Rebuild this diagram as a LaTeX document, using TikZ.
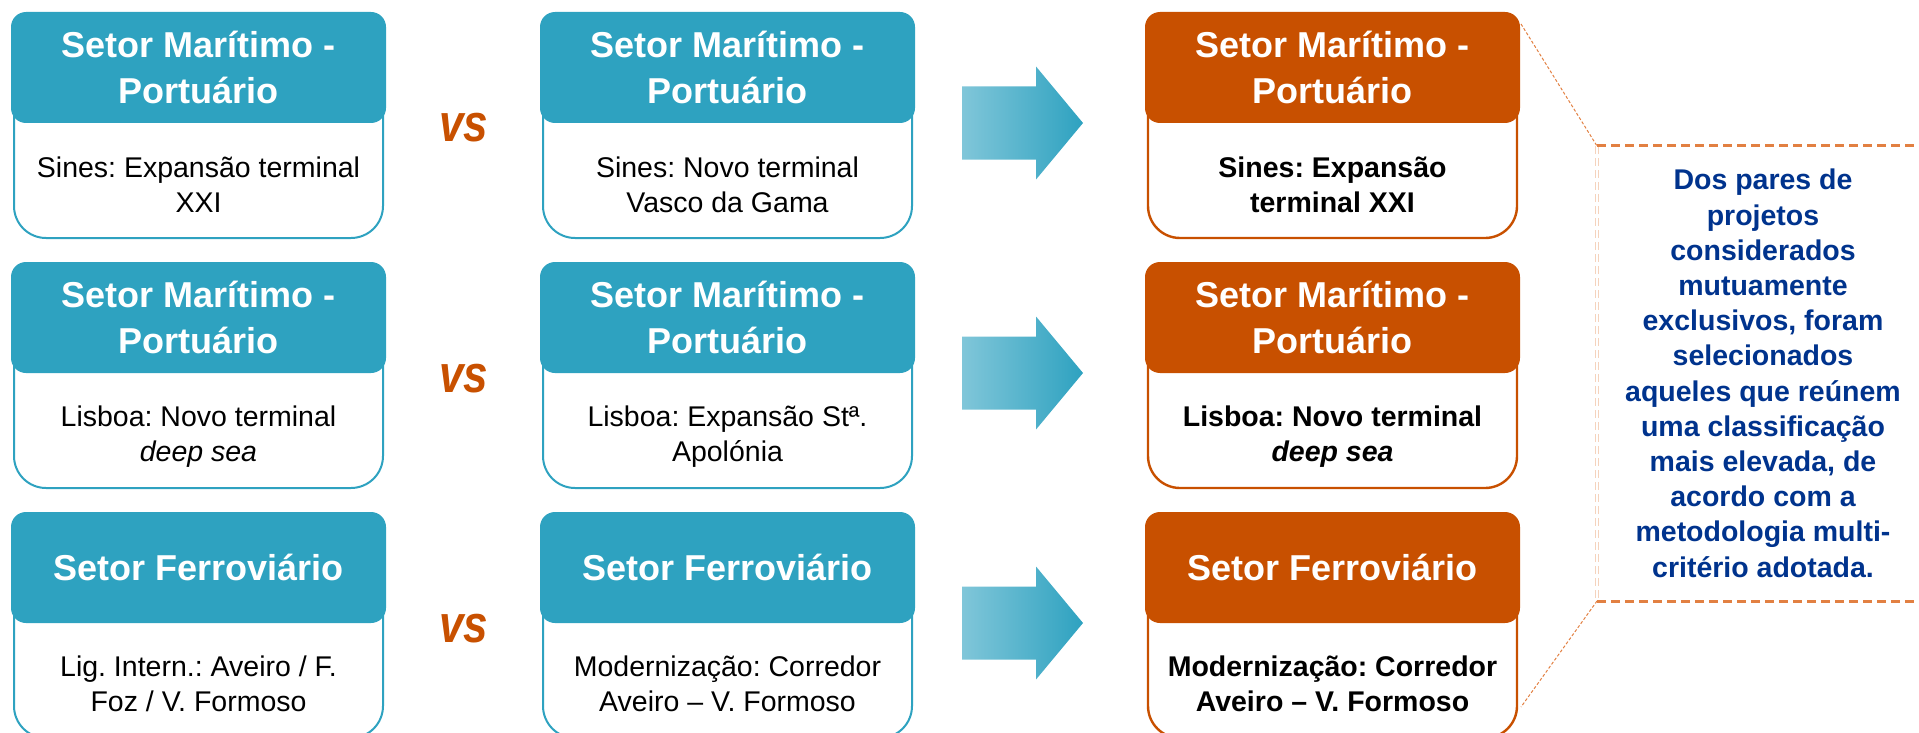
\documentclass[tikz,border=0pt]{standalone}
\usepackage{fontspec}
\setmainfont{Liberation Sans}
\frenchspacing
\definecolor{teal1}{RGB}{46,162,192}
\definecolor{orng}{RGB}{200,80,0}
\definecolor{dorng}{RGB}{226,128,66}
\definecolor{cblue}{RGB}{0,51,141}
\definecolor{arrL}{RGB}{128,198,217}
\definecolor{arrR}{RGB}{46,162,192}
\tikzset{
 hdr/.style={rectangle, rounded corners=15pt, minimum width=375pt, minimum height=111pt, inner sep=0pt, text=white, font=\bfseries\fontsize{36}{46}\selectfont, align=center},
 tealhdr/.style={hdr, fill=teal1},
 orhdr/.style={hdr, fill=orng},
 bodybox/.style={rectangle, rounded corners=32pt, minimum width=369pt, minimum height=166pt, inner sep=0pt, fill=white, line width=2pt},
 tealbody/.style={bodybox, draw=teal1},
 orbody/.style={bodybox, draw=orng, line width=2.4pt},
 bodytxt/.style={anchor=base, align=center, inner sep=0pt, font=\fontsize{28.5}{35}\selectfont},
 seltxt/.style={anchor=base, align=center, inner sep=0pt, font=\bfseries\fontsize{28.5}{35}\selectfont},
 vstxt/.style={anchor=base, inner sep=0pt, text=orng, font=\bfseries\itshape\fontsize{44}{44}\selectfont},
 calltxt/.style={anchor=base, align=center, inner sep=0pt, text=cblue, font=\bfseries\fontsize{28.5}{35.2}\selectfont},
 thindash/.style={draw=dorng, line width=1pt, dash pattern=on 3pt off 2pt},
 thickdash/.style={draw=dorng, line width=3pt, dash pattern=on 9pt off 5pt},
 paledash/.style={draw=dorng!35, line width=0.8pt, double=white, double distance=1.5pt, dash pattern=on 8pt off 4pt},
 blockarrow/.style={left color=arrL, right color=arrR, draw=none}
}
\newcommand{\mkarrow}[1]{%
 \shade[blockarrow] (962,#1-36.5) -- (1036,#1-36.5) -- (1036,#1-56.5) -- (1083,#1) -- (1036,#1+56.5) -- (1036,#1+36.5) -- (962,#1+36.5) -- cycle;}
\begin{document}
\begin{tikzpicture}[x=1pt,y=-1pt]
\useasboundingbox (0,0) rectangle (1919,733);

% ---------- Row 1 ----------
\node[tealbody] (b1a) at (198.5,155) {};
\node[tealhdr] (h1a) at (198.5,67.5) {Setor Marítimo -\\Portuário};
\node[bodytxt] (t1a) at (198.5,212) {Sines: Expansão terminal\\XXI};
\node[vstxt] (vs1) at (464,142) {\scalebox{1}[1.2]{vs}};
\node[tealbody] (b1b) at (727.5,155) {};
\node[tealhdr] (h1b) at (727.5,67.5) {Setor Marítimo -\\Portuário};
\node[bodytxt] (t1b) at (727.5,212) {Sines: Novo terminal\\Vasco da Gama};
\mkarrow{123}
\node[orbody] (b1c) at (1332.5,155) {};
\node[orhdr] (h1c) at (1332.5,67.5) {Setor Marítimo -\\Portuário};
\node[seltxt] (t1c) at (1332.5,212) {Sines: Expansão\\terminal XXI};

% ---------- Row 2 ----------
\node[tealbody] (b2a) at (198.5,405) {};
\node[tealhdr] (h2a) at (198.5,317.5) {Setor Marítimo -\\Portuário};
\node[bodytxt] (t2a) at (198.5,461) {Lisboa: Novo terminal\\\textit{deep sea}};
\node[vstxt] (vs2) at (464,392) {\scalebox{1}[1.2]{vs}};
\node[tealbody] (b2b) at (727.5,405) {};
\node[tealhdr] (h2b) at (727.5,317.5) {Setor Marítimo -\\Portuário};
\node[bodytxt] (t2b) at (727.5,461) {Lisboa: Expansão Stª.\\Apolónia};
\mkarrow{373}
\node[orbody] (b2c) at (1332.5,405) {};
\node[orhdr] (h2c) at (1332.5,317.5) {Setor Marítimo -\\Portuário};
\node[seltxt] (t2c) at (1332.5,461) {Lisboa: Novo terminal\\\textit{deep sea}};

% ---------- Row 3 ----------
\node[tealbody] (b3a) at (198.5,655) {};
\node[tealhdr] (h3a) at (198.5,567.5) {Setor Ferroviário};
\node[bodytxt] (t3a) at (198.5,711) {Lig. Intern.: Aveiro / F.\\Foz / V. Formoso};
\node[vstxt] (vs3) at (464,642) {\scalebox{1}[1.2]{vs}};
\node[tealbody] (b3b) at (727.5,655) {};
\node[tealhdr] (h3b) at (727.5,567.5) {Setor Ferroviário};
\node[bodytxt] (t3b) at (727.5,711) {Modernização: Corredor\\Aveiro – V. Formoso};
\mkarrow{623}
\node[orbody] (b3c) at (1332.5,655) {};
\node[orhdr] (h3c) at (1332.5,567.5) {Setor Ferroviário};
\node[seltxt] (t3c) at (1332.5,711) {Modernização: Corredor\\Aveiro – V. Formoso};

% ---------- Callout ----------
\coordinate (ctl) at (1597,146);
\coordinate (cbl) at (1597,601);
\coordinate (ctr) at (1919,146);
\coordinate (cbr) at (1919,601);
\coordinate (ftop) at (1521,24);
\coordinate (fbot) at (1521,707);
\draw[thindash] (ftop) -- (ctl);
\draw[thindash] (cbl) -- (fbot);
\draw[paledash] (ctl) -- (cbl);
\draw[thickdash] (ctl) -- (ctr);
\draw[thickdash] (cbl) -- (cbr);
\node[calltxt] (note) at (1763,577) {Dos pares de\\projetos\\considerados\\mutuamente\\exclusivos, foram\\selecionados\\aqueles que reúnem\\uma classificação\\mais elevada, de\\acordo com a\\metodologia multi-\\critério adotada.};
\end{tikzpicture}
\end{document}
